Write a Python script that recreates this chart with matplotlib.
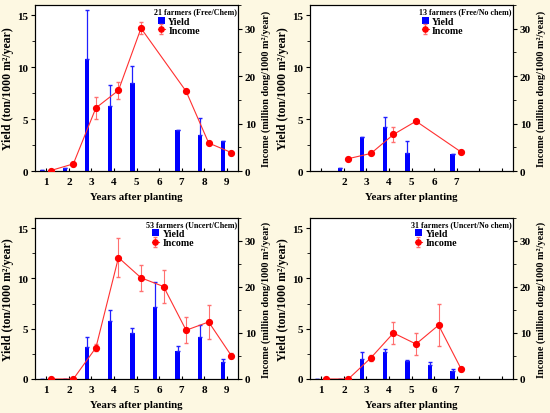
import matplotlib.pyplot as plt
from matplotlib.ticker import MultipleLocator

plt.rcParams['font.family'] = 'Liberation Serif'
plt.rcParams['font.weight'] = 'bold'

# Panel 1: 21 farmers (Free/Chem)
years_1 = [1, 2, 3, 4, 5, 7, 8, 9]
yield_1 = [0.05, 0.3, 10.8, 6.25, 8.45, 4.0, 3.5, 2.85]
yield_err_1 = [0, 0, 4.7, 2.0, 1.65, 0, 1.65, 0]
income_1 = [0.1, 1.5, 13.3, 17.0, 30.1, 16.8, 5.9, 3.9]
income_err_1 = [0, 0, 2.4, 1.8, 1.3, 0, 0, 0]

# Panel 2: 13 farmers (Free/No chem)
years_2 = [2, 3, 4, 5, 7]
yield_2 = [0.25, 3.25, 4.25, 1.7, 1.6]
yield_err_2 = [0, 0, 0.95, 1.2, 0]
income_2 = [2.6, 3.7, 7.7, 10.5, 4.0]
income_err_2 = [0, 0, 1.5, 0, 0]

# Panel 3: 53 farmers (Uncert/Chem)
years_3 = [1, 2, 3, 4, 5, 6, 7, 8, 9]
yield_3 = [0, 0, 3.15, 5.75, 4.55, 7.2, 2.75, 4.2, 1.7]
yield_err_3 = [0, 0, 1.05, 1.15, 0.55, 2.4, 0.5, 1.15, 0.3]
income_3 = [0, 0, 6.8, 26.4, 22.0, 20.1, 10.6, 12.4, 5.1]
income_err_3 = [0, 0, 0.8, 4.3, 2.8, 3.6, 2.8, 3.7, 0.5]

# Panel 4: 31 farmers (Uncert/No chem)
years_4 = [1, 2, 3, 4, 5, 6, 7]
yield_4 = [0, 0, 1.95, 2.7, 1.75, 1.4, 0.75]
yield_err_4 = [0, 0, 0.75, 0.33, 0.1, 0.33, 0.23]
income_4 = [0, 0, 4.6, 10.0, 7.6, 11.7, 2.2]
income_err_4 = [0, 0, 0.6, 2.3, 2.3, 4.5, 0.5]

titles = ['21 farmers (Free/Chem)', '13 farmers (Free/No chem)',
          '53 farmers (Uncert/Chem)', '31 farmers (Uncert/No chem)']
tick_labels = [range(1, 10), range(2, 8), range(1, 10), range(1, 8)]

panels = [
    (years_1, yield_1, yield_err_1, income_1, income_err_1),
    (years_2, yield_2, yield_err_2, income_2, income_err_2),
    (years_3, yield_3, yield_err_3, income_3, income_err_3),
    (years_4, yield_4, yield_err_4, income_4, income_err_4),
]

W, H = 550, 414
boxes = [(35, 6, 238, 172), (310, 6, 513, 172),
         (35, 219, 238, 380), (310, 219, 513, 380)]
# where the legend markers start, in axes fraction
leg_x = [0.605, 0.55, 0.576, 0.517]

fig = plt.figure(figsize=(5.5, 4.14), dpi=100)
fig.patch.set_facecolor('#fdf8e2')

for i, (yrs, yl, yle, inc, ince) in enumerate(panels):
    l, t, r, b = boxes[i]
    ax = fig.add_axes([l / W, 1 - b / H, (r - l) / W, (b - t) / H])
    ax.set_facecolor('white')
    bx = [x - 0.18 for x in yrs]
    px = [x + 0.2 for x in yrs]
    ax.bar(bx, yl, width=0.19, color='#0000ff', label='Yield', zorder=2)
    ax.errorbar(bx, yl, yerr=[[0] * len(yle), yle], fmt='none',
                ecolor='#2020ff', elinewidth=0.9, capsize=1.5, zorder=2)
    ax.set_xlim(0.5, 9.5)
    ax.set_ylim(0, 16)
    ax.set_xticks(range(1, 10))
    ax.set_xticklabels([str(k) if k in tick_labels[i] else '' for k in range(1, 10)])
    ax.set_yticks([0, 5, 10, 15])
    ax.yaxis.set_minor_locator(MultipleLocator(2.5))
    ax.tick_params(axis='x', direction='in', labelsize=8, length=2.5, pad=4)
    ax.tick_params(axis='y', which='major', direction='out', labelsize=8,
                   length=3, pad=2)
    ax.tick_params(axis='y', which='minor', direction='out', length=2)
    ax.set_xlabel('Years after planting', fontsize=7.8, fontweight='bold',
                  labelpad=5)
    ax.set_ylabel('Yield (ton/1000 m²/year)', fontsize=8.5, fontweight='bold',
                  labelpad=2)

    ax2 = ax.twinx()
    ax2.errorbar(px, inc, yerr=ince, fmt='-o', color='#ff3030', mfc='#ff0000',
                 mec='#ff0000', ms=4.2, lw=0.8, elinewidth=0.8, ecolor='#ff7070',
                 capsize=1.5, label='Income', zorder=3)
    ax2.set_ylim(0, 35)
    ax2.set_yticks([0, 10, 20, 30])
    ax2.yaxis.set_minor_locator(MultipleLocator(5))
    ax2.tick_params(which='major', direction='out', labelsize=8, length=3, pad=2)
    ax2.tick_params(which='minor', direction='out', length=2)
    ax2.set_ylabel('Income (million dong/1000 m²/year)', fontsize=7.3,
                   fontweight='bold', labelpad=4)

    ax2.text(0.995, 0.985, titles[i], transform=ax2.transAxes, ha='right',
             va='top', fontsize=5.8, fontweight='bold')
    h1, l1 = ax.get_legend_handles_labels()
    h2, l2 = ax2.get_legend_handles_labels()
    ax2.legend(h1 + h2, l1 + l2, loc='upper left',
               bbox_to_anchor=(leg_x[i], 0.93), frameon=False, fontsize=7.2,
               handlelength=0.7, handletextpad=0.35, labelspacing=0.02,
               borderaxespad=0, borderpad=0, markerscale=0.9)

fig.savefig('out.png', dpi=100, facecolor=fig.get_facecolor())
